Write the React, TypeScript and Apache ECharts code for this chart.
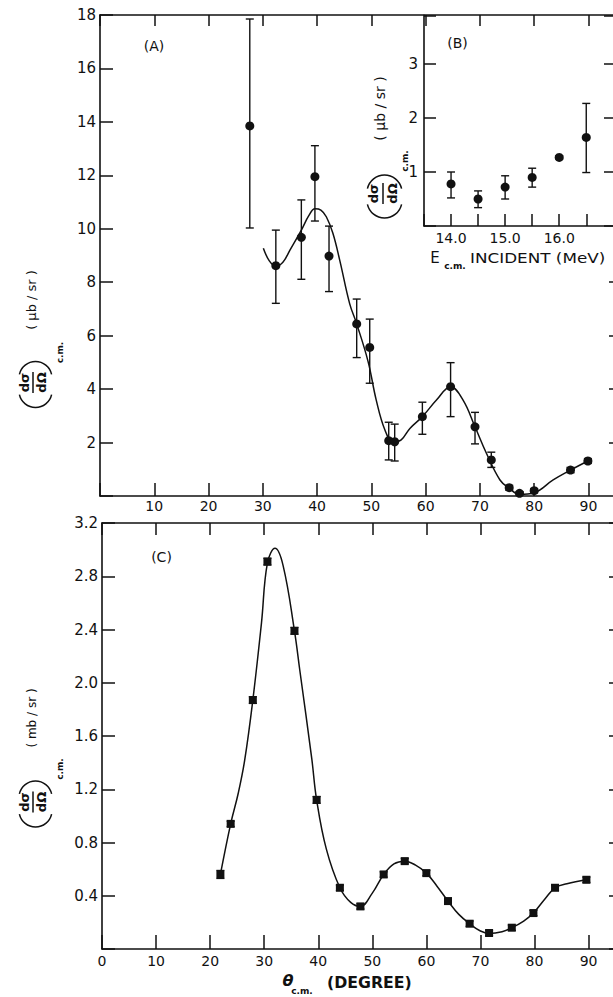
import { useEffect, useRef } from "react";
import * as echarts from "echarts";

// ---------- Panel A: angular distribution (µb/sr) ----------
const aAngle = [27.6, 32.4, 37.1, 39.6, 42.2, 47.3, 49.7, 53.2, 54.3, 59.4, 64.6, 69.1, 72.1, 75.4, 77.3, 80.0, 86.7, 89.9];
const aValue = [13.85, 8.62, 9.68, 11.95, 8.98, 6.44, 5.56, 2.07, 2.03, 2.97, 4.09, 2.59, 1.35, 0.31, 0.1, 0.2, 0.97, 1.31];
const aHigh = [17.85, 9.95, 11.08, 13.11, 10.1, 7.37, 6.62, 2.76, 2.69, 3.51, 4.99, 3.13, 1.64, 0.4, 0.16, 0.28, 1.07, 1.4];
const aLow = [10.03, 7.21, 8.11, 10.29, 7.65, 5.18, 4.22, 1.35, 1.31, 2.31, 2.97, 1.95, 1.07, 0.22, 0.04, 0.12, 0.87, 1.22];
const aCurveAngle = [30.1, 31.2, 32.4, 33.7, 35, 37.1, 38.5, 39.6, 40.7, 41.7, 42.9, 44.2, 46.0, 47.3, 49.4, 50.9, 52.5, 54.0, 55.5, 57.1, 59.4, 62.0, 64.6, 66.9, 69.1, 71.2, 73.7, 75.4, 77.3, 80.0, 83.5, 86.7, 89.9];
const aCurveValue = [9.27, 8.8, 8.6, 8.75, 9.2, 9.95, 10.5, 10.75, 10.7, 10.45, 9.84, 8.8, 7.2, 6.44, 5.03, 3.59, 2.47, 2.02, 2.1, 2.53, 2.97, 3.59, 4.09, 3.59, 2.59, 1.6, 0.6, 0.29, 0.06, 0.12, 0.6, 0.97, 1.31];
const aXTicks = [10, 20, 30, 40, 50, 60, 70, 80, 90];
const aYTicks = [2, 4, 6, 8, 10, 12, 14, 16, 18];

// ---------- Panel B: excitation (µb/sr) ----------
const bEnergy = [14.0, 14.5, 15.0, 15.5, 16.0, 16.5];
const bValue = [0.78, 0.5, 0.72, 0.9, 1.27, 1.64];
const bHigh = [1.0, 0.65, 0.93, 1.07, 1.3, 2.27];
const bLow = [0.52, 0.34, 0.5, 0.72, 1.24, 0.99];
const bXLabels = [14, 15, 16];

// ---------- Panel C: angular distribution (mb/sr) ----------
const cAngle = [21.9, 23.8, 27.9, 30.6, 35.6, 39.7, 44.0, 47.8, 52.1, 56.0, 60.0, 64.0, 68.0, 71.6, 75.8, 79.8, 83.8, 89.6];
const cValue = [0.56, 0.94, 1.87, 2.91, 2.39, 1.12, 0.46, 0.32, 0.56, 0.66, 0.57, 0.36, 0.19, 0.12, 0.16, 0.27, 0.46, 0.52];
const cErr = [0.03, 0.02, 0.025, 0.025, 0.025, 0.025, 0.02, 0.02, 0.02, 0.02, 0.02, 0.02, 0.02, 0.02, 0.02, 0.02, 0.02, 0.02];
const cCurveAngle = [21.9, 23.8, 25.2, 26.4, 27.9, 29.5, 30.6, 32.0, 33.5, 35.6, 36.6, 38.8, 39.7, 41.5, 44.0, 46, 47.8, 50, 52.1, 54, 56, 58, 60, 62, 64, 66, 68, 70, 71.6, 74, 75.8, 78, 79.8, 82, 83.8, 86, 89.6];
const cCurveValue = [0.56, 0.94, 1.17, 1.42, 1.87, 2.45, 2.9, 3.01, 2.88, 2.39, 2.09, 1.43, 1.12, 0.75, 0.46, 0.35, 0.32, 0.42, 0.56, 0.64, 0.66, 0.63, 0.57, 0.47, 0.36, 0.26, 0.19, 0.135, 0.117, 0.13, 0.16, 0.21, 0.27, 0.38, 0.46, 0.49, 0.52];
const cXTicks = [0, 10, 20, 30, 40, 50, 60, 70, 80, 90];

const INK = "#111111";
const FONT = "DejaVu Sans";

const errorBarSeries = (xIdx: number, yIdx: number, data: number[][], cap: number, lw: number) => ({
  type: "custom",
  xAxisIndex: xIdx,
  yAxisIndex: yIdx,
  data,
  encode: { x: 0, y: [1, 2] },
  z: 3,
  renderItem: (_params: any, api: any) => {
    const x = api.value(0);
    const lo = api.value(1);
    const hi = api.value(2);
    const p1 = api.coord([x, hi]);
    const p2 = api.coord([x, lo]);
    const st = { stroke: INK, lineWidth: lw };
    return {
      type: "group",
      children: [
        { type: "line", shape: { x1: p1[0], y1: p1[1], x2: p2[0], y2: p2[1] }, style: st },
        { type: "line", shape: { x1: p1[0] - cap, y1: p1[1], x2: p1[0] + cap, y2: p1[1] }, style: st },
        { type: "line", shape: { x1: p2[0] - cap, y1: p2[1], x2: p2[0] + cap, y2: p2[1] }, style: st },
      ],
    };
  },
});

const axisLine = { show: true, onZero: false, lineStyle: { color: INK, width: 1.6 } };
const tick = (len: number, extra: any = {}) => ({ show: true, inside: true, length: len, lineStyle: { color: INK, width: 1.5 }, ...extra });
const lbl = (fmt: (v: number) => string, margin: number, size = 14) => ({
  show: true,
  formatter: fmt,
  margin,
  fontSize: size,
  color: INK,
  fontFamily: FONT,
  showMinLabel: true,
  showMaxLabel: true,
});
const noLbl = { show: false };
const noSplit = { show: false };

const rotText = (text: string, x: number, y: number, size: number, bold = false) => ({
  type: "text",
  x,
  y,
  rotation: Math.PI / 2,
  style: { text, fontSize: size, fontFamily: FONT, fontWeight: bold ? "bold" : "normal", fill: INK, align: "center", verticalAlign: "middle" },
});
const plainText = (text: string, x: number, y: number, size: number, opts: any = {}) => ({
  type: "text",
  x,
  y,
  scaleX: opts.scaleX ?? 1,
  style: {
    text,
    fontSize: size,
    fontFamily: FONT,
    fontWeight: opts.bold ? "bold" : "normal",
    fontStyle: opts.italic ? "italic" : "normal",
    fill: INK,
    align: opts.align ?? "center",
    verticalAlign: "middle",
  },
});
const paren = (cx: number, cy: number, r: number, down: boolean) => {
  const mid = down ? Math.PI / 2 : (3 * Math.PI) / 2;
  return {
    type: "arc",
    shape: { cx, cy, r, startAngle: mid - 1.35, endAngle: mid + 1.35, clockwise: true },
    style: { stroke: INK, lineWidth: 1.5, fill: "none" },
  };
};
const yTitle = (fy: number, lineX: number, numX: number, denX: number, parCx: number, parR: number, parBottom: number, parTop: number, cmX: number, cmY: number, unit: string, unitX: number, unitY: number, unitSize: number) => [
  rotText("dσ", numX, fy, 13, true),
  { type: "line", shape: { x1: lineX, y1: fy - 10.5, x2: lineX, y2: fy + 10.5 }, style: { stroke: INK, lineWidth: 1.5 } },
  rotText("dΩ", denX, fy, 13, true),
  paren(parCx, parBottom - parR, parR, true),
  paren(parCx, parTop + parR, parR, false),
  rotText("c.m.", cmX, cmY, 9, true),
  rotText(unit, unitX, unitY, unitSize),
];

export default function App() {
  const ref = useRef<HTMLDivElement>(null);
  useEffect(() => {
    const chart = echarts.init(ref.current!, null, { renderer: "svg" });
    const option: any = {
      animation: false,
      backgroundColor: "#ffffff",
      textStyle: { fontFamily: FONT },
      grid: [
        { left: 100, top: 15, width: 521, height: 481, containLabel: false, outerBoundsMode: "none" },
        { left: 424, top: 15.4, width: 192, height: 210.6, containLabel: false, outerBoundsMode: "none" },
        { left: 102, top: 523, width: 519, height: 426, containLabel: false, outerBoundsMode: "none" },
      ],
      xAxis: [
        { type: "value", gridIndex: 0, min: 0, max: 96, interval: 10, axisLine, axisTick: tick(13), axisLabel: lbl((v) => (aXTicks.includes(v) ? String(v) : ""), 3), splitLine: noSplit },
        { type: "value", gridIndex: 0, position: "top", min: 0, max: 96, interval: 10, axisLine, axisTick: tick(11), axisLabel: noLbl, splitLine: noSplit },
        { type: "value", gridIndex: 1, min: 13.5, max: 17.05, interval: 0.5, axisLine, axisTick: tick(12), axisLabel: lbl((v) => (bXLabels.includes(v) ? v.toFixed(1) : ""), 5), splitLine: noSplit },
        { type: "value", gridIndex: 2, min: 0, max: 96, interval: 10, axisLine, axisTick: tick(14), axisLabel: lbl((v) => (cXTicks.includes(v) ? String(v) : ""), 5), splitLine: noSplit },
        { type: "value", gridIndex: 2, position: "top", min: 0, max: 96, interval: 10, axisLine, axisTick: tick(12), axisLabel: noLbl, splitLine: noSplit },
      ],
      yAxis: [
        { type: "value", gridIndex: 0, min: 0, max: 18, interval: 2, axisLine, axisTick: tick(13), axisLabel: lbl((v) => (aYTicks.includes(v) ? String(v) : ""), 4, 15), splitLine: noSplit },
        { type: "value", gridIndex: 0, position: "right", min: 0, max: 18, interval: 2, axisLine, axisTick: tick(12, { customValues: [2, 4, 6, 8] }), axisLabel: noLbl, splitLine: noSplit },
        { type: "value", gridIndex: 1, min: 0, max: 3.9, interval: 1, axisLine, axisTick: tick(12), axisLabel: lbl((v) => (v >= 1 && v <= 3 && Number.isInteger(v) ? String(v) : ""), 6, 15), splitLine: noSplit },
        { type: "value", gridIndex: 1, position: "right", min: 0, max: 3.9, interval: 1, axisLine, axisTick: tick(12), axisLabel: noLbl, splitLine: noSplit },
        { type: "value", gridIndex: 2, min: 0, max: 3.2, interval: 0.4, axisLine, axisTick: tick(13), axisLabel: lbl((v) => (v > 0.2 && v < 3.3 ? v.toFixed(1) : ""), 4, 15), splitLine: noSplit },
        { type: "value", gridIndex: 2, position: "right", min: 0, max: 3.2, interval: 0.4, axisLine, axisTick: tick(12), axisLabel: noLbl, splitLine: noSplit },
      ],
      series: [
        {
          type: "line", xAxisIndex: 0, yAxisIndex: 0, smooth: 0.4, showSymbol: false, silent: true,
          data: aCurveAngle.map((x, i) => [x, aCurveValue[i]]),
          lineStyle: { color: INK, width: 1.5 },
        },
        errorBarSeries(0, 0, aAngle.map((x, i) => [x, aLow[i], aHigh[i]]), 4, 1.4),
        {
          type: "scatter", xAxisIndex: 0, yAxisIndex: 0, symbol: "circle", symbolSize: 9, z: 4,
          data: aAngle.map((x, i) => [x, aValue[i]]),
          itemStyle: { color: INK, opacity: 1 },
        },
        errorBarSeries(2, 2, bEnergy.map((x, i) => [x, bLow[i], bHigh[i]]), 4, 1.4),
        {
          type: "scatter", xAxisIndex: 2, yAxisIndex: 2, symbol: "circle", symbolSize: 9, z: 4,
          data: bEnergy.map((x, i) => [x, bValue[i]]),
          itemStyle: { color: INK, opacity: 1 },
        },
        {
          type: "line", xAxisIndex: 3, yAxisIndex: 4, smooth: 0.4, showSymbol: false, silent: true,
          data: cCurveAngle.map((x, i) => [x, cCurveValue[i]]),
          lineStyle: { color: INK, width: 1.5 },
        },
        errorBarSeries(3, 4, cAngle.map((x, i) => [x, cValue[i] - cErr[i], cValue[i] + cErr[i]]), 4, 1.3),
        {
          type: "scatter", xAxisIndex: 3, yAxisIndex: 4, symbol: "rect", symbolSize: 8, z: 4,
          data: cAngle.map((x, i) => [x, cValue[i]]),
          itemStyle: { color: INK, opacity: 1 },
        },
      ],
      graphic: [
        // panel labels
        plainText("(A)", 154, 46, 14),
        plainText("(B)", 457.5, 43, 14),
        plainText("(C)", 161.5, 557, 14),
        // y titles
        ...yTitle(382.5, 33, 24, 41.5, 35.5, 16.5, 407.5, 361.5, 59.5, 352.5, "( µb / sr )", 31.5, 300, 13),
        ...yTitle(802, 33, 24, 41.5, 35.5, 16.5, 827, 781, 60, 769, "( mb / sr )", 31.5, 718, 12),
        ...yTitle(193.5, 383, 373, 392, 384.5, 17.5, 218, 175, 405, 161, "( µb / sr )", 380, 108.5, 14),
        // B x title
        plainText("E", 435, 258, 15),
        plainText("c.m.", 455, 266, 9, { bold: true }),
        plainText("INCIDENT (MeV)", 470, 258, 14, { align: "left", scaleX: 1.2 }),
        // C x title
        plainText("θ", 288, 980, 16, { italic: true, bold: true }),
        plainText("c.m.", 302, 990.5, 9, { bold: true }),
        plainText("(DEGREE)", 327, 983, 15, { align: "left", bold: true, scaleX: 1.05 }),
      ],
    };
    chart.setOption(option);
    return () => chart.dispose();
  }, []);
  return (
    <div
      ref={ref}
      style={{ position: "fixed", left: 0, top: 0, width: 613, height: 997, background: "#fff" }}
    />
  );
}
